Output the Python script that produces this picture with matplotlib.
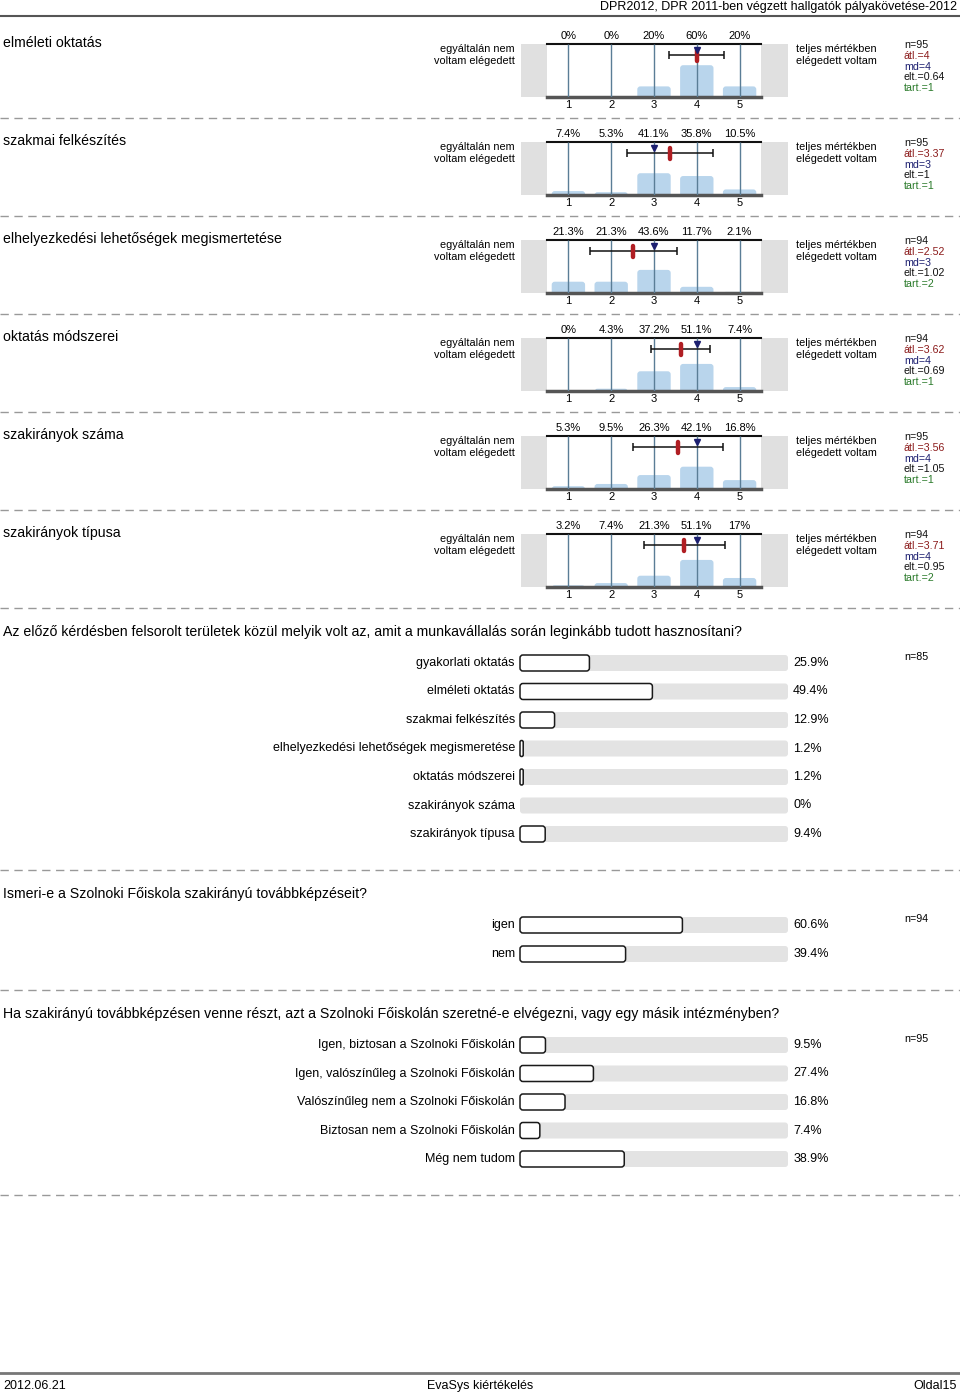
import numpy as np
import matplotlib
matplotlib.use("Agg")
from matplotlib import pyplot as plt
from matplotlib.patches import FancyBboxPatch, Rectangle

plt.rcParams['font.family'] = ['Liberation Sans', 'DejaVu Sans']

W, H = 960, 1395

header = "DPR2012, DPR 2011-ben végzett hallgatók pályakövetése-2012"
footer_left = "2012.06.21"
footer_mid = "EvaSys kiértékelés"
footer_right = "Oldal15"

# scale questions (1..5)
scale_titles = ["elméleti oktatás", "szakmai felkészítés",
                "elhelyezkedési lehetőségek megismertetése", "oktatás módszerei",
                "szakirányok száma", "szakirányok típusa"]
scale_pcts = [[0, 0, 20, 60, 20],
              [7.4, 5.3, 41.1, 35.8, 10.5],
              [21.3, 21.3, 43.6, 11.7, 2.1],
              [0, 4.3, 37.2, 51.1, 7.4],
              [5.3, 9.5, 26.3, 42.1, 16.8],
              [3.2, 7.4, 21.3, 51.1, 17]]
scale_n = [95, 95, 94, 94, 95, 94]
scale_mean = [4, 3.37, 2.52, 3.62, 3.56, 3.71]
scale_md = [4, 3, 3, 4, 4, 4]
scale_sd = [0.64, 1, 1.02, 0.69, 1.05, 0.95]
scale_tart = [1, 1, 2, 1, 1, 2]
left_pole = ["egyáltalán nem", "voltam elégedett"]
right_pole = ["teljes mértékben", "elégedett voltam"]

q1_text = "Az előző kérdésben felsorolt területek közül melyik volt az, amit a munkavállalás során leginkább tudott hasznosítani?"
q1_labels = ["gyakorlati oktatás", "elméleti oktatás", "szakmai felkészítés",
             "elhelyezkedési lehetőségek megismeretése", "oktatás módszerei",
             "szakirányok száma", "szakirányok típusa"]
q1_pcts = [25.9, 49.4, 12.9, 1.2, 1.2, 0, 9.4]
q1_n = 85

q2_text = "Ismeri-e a Szolnoki Főiskola szakirányú továbbképzéseit?"
q2_labels = ["igen", "nem"]
q2_pcts = [60.6, 39.4]
q2_n = 94

q3_text = "Ha szakirányú továbbképzésen venne részt, azt a Szolnoki Főiskolán szeretné-e elvégezni, vagy egy másik intézményben?"
q3_labels = ["Igen, biztosan a Szolnoki Főiskolán", "Igen, valószínűleg a Szolnoki Főiskolán",
             "Valószínűleg nem a Szolnoki Főiskolán", "Biztosan nem a Szolnoki Főiskolán",
             "Még nem tudom"]
q3_pcts = [9.5, 27.4, 16.8, 7.4, 38.9]
q3_n = 95

fig = plt.figure(figsize=(W / 100, H / 100), dpi=100)
bg = fig.add_axes([0, 0, 1, 1])
bg.set_xlim(0, W)
bg.set_ylim(H, 0)
bg.axis('off')


def px_axes(x0, y0, w, h):
    return fig.add_axes([x0 / W, 1 - (y0 + h) / H, w / W, h / H])


def separator(y):
    bg.plot([0, W], [y, y], color='#999999', lw=1, dashes=(6, 4))


def scale_block(top, title, pcts, n, mean, md, sd, tart):
    bg.text(3, top - 1, title, fontsize=10.2, va='center')
    bg.text(515, top + 5.5, left_pole[0], fontsize=7.8, ha='right', va='center')
    bg.text(515, top + 16.5, left_pole[1], fontsize=7.8, ha='right', va='center')
    bg.text(796, top + 5.5, right_pole[0], fontsize=7.8, va='center')
    bg.text(796, top + 16.5, right_pole[1], fontsize=7.8, va='center')
    bg.add_patch(Rectangle((521, top), 26, 53, color='#e0e0e0', lw=0))
    bg.add_patch(Rectangle((761, top), 27, 53, color='#e0e0e0', lw=0))
    stats = [("n=%d" % n, '#111111'), ("átl.=%g" % mean, '#8b1a1a'),
             ("md=%d" % md, '#1c1f70'), ("elt.=%g" % sd, '#111111'),
             ("tart.=%d" % tart, '#2a7a2a')]
    for i, (s, c) in enumerate(stats):
        bg.text(904, top + 1 + i * 10.8, s, fontsize=7.7, color=c, va='center')

    ax = px_axes(547, top, 214, 53)
    ax.set_xlim(0.5, 5.5)
    ax.set_ylim(0, 100)
    pos = np.arange(1, 6)
    ax.vlines(pos, 0, 100, color='#5a7d96', lw=1, zorder=3)
    for x, p in zip(pos, pcts):
        if p > 0:
            ax.add_patch(FancyBboxPatch((x - 0.39, -10), 0.78, p + 10,
                                        boxstyle="round,pad=0,rounding_size=0.07",
                                        mutation_aspect=81, fc='#b9d5ec', ec='none', zorder=2))
        ax.annotate("%g%%" % p, (x, 100), xytext=(0, 6.0), textcoords='offset points',
                    ha='center', va='center', fontsize=8, annotation_clip=False)
    ax.errorbar(mean, 79, xerr=sd, fmt='none', ecolor='#111111', elinewidth=1.1,
                capsize=2.9, capthick=1.1, zorder=4)
    ax.plot([mean, mean], [67, 89], color='#b01e23', lw=3.2, solid_capstyle='round', zorder=5)
    ax.plot(md, 89, marker='v', ms=5, color='#1c1f70', zorder=6, clip_on=False)
    ax.set_xticks(pos)
    ax.set_xticklabels([str(v) for v in pos], fontsize=8)
    ax.tick_params(axis='x', length=0, pad=2.5)
    ax.set_yticks([])
    ax.patch.set_alpha(0)
    for s in ['left', 'right']:
        ax.spines[s].set_visible(False)
    ax.spines['top'].set_color('#111111')
    ax.spines['top'].set_linewidth(1.5)
    ax.spines['bottom'].set_color('#555555')
    ax.spines['bottom'].set_linewidth(2.5)
    separator(top + 74)


def bar_section(qy, question, labels, pcts, n, first_y, step):
    bg.text(3, qy, question, fontsize=10.2, va='center')
    k = len(labels)
    ax = px_axes(520, first_y - step / 2, 268, step * k)
    ax.set_xlim(0, 100)
    ax.set_ylim(k - 0.5, -0.5)
    ax.axis('off')
    hb = 16 / step
    asp = (3 / step) / (3 / 2.68)
    for i, (lab, p) in enumerate(zip(labels, pcts)):
        ax.add_patch(FancyBboxPatch((0, i - hb / 2), 100, hb,
                                    boxstyle="round,pad=0,rounding_size=1.1",
                                    mutation_aspect=asp, fc='#e3e3e3', ec='none', clip_on=False))
        if p > 0:
            r = min(1.1, p / 2)
            ax.add_patch(FancyBboxPatch((0, i - hb / 2), p, hb,
                                        boxstyle="round,pad=0,rounding_size=%g" % r,
                                        mutation_aspect=asp, fc='white', ec='#1a1a1a',
                                        lw=1.1, clip_on=False))
        ax.text(-1.9, i, lab, ha='right', va='center', fontsize=9)
        ax.text(101.9, i, "%g%%" % p, ha='left', va='center', fontsize=9)
    bg.text(904, first_y - 6, "n=%d" % n, fontsize=7.7, va='center')


# header
bg.text(957, 7, header, ha='right', va='center', fontsize=9)
bg.plot([0, W], [16, 16], color='#555555', lw=1.5)

for j in range(len(scale_titles)):
    scale_block(44 + j * 98, scale_titles[j], scale_pcts[j], scale_n[j], scale_mean[j],
                scale_md[j], scale_sd[j], scale_tart[j])

bar_section(632, q1_text, q1_labels, q1_pcts, q1_n, 663, 28.5)
separator(870)
bar_section(894, q2_text, q2_labels, q2_pcts, q2_n, 925, 29)
separator(990)
bar_section(1014, q3_text, q3_labels, q3_pcts, q3_n, 1045, 28.5)
separator(1195)

# footer
bg.plot([0, W], [1373, 1373], color='#777777', lw=2)
bg.text(3, 1386, footer_left, fontsize=9, va='center')
bg.text(480, 1386, footer_mid, fontsize=9, ha='center', va='center')
bg.text(957, 1386, footer_right, fontsize=9, ha='right', va='center')

fig.savefig("out.png", dpi=100)
